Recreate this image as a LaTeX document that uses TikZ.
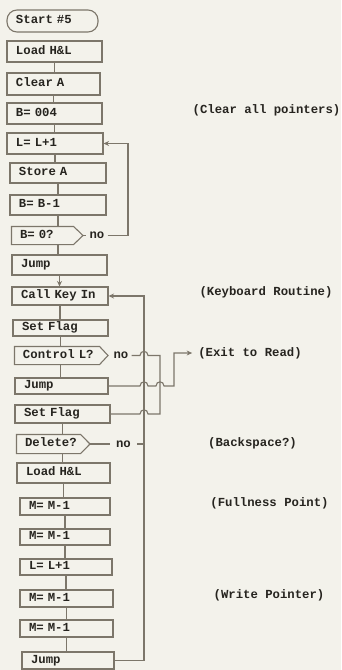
\documentclass[tikz,border=0pt]{standalone}
\usepackage{fontspec}
\setmainfont{Liberation Mono}
\usetikzlibrary{arrows.meta}
\definecolor{bg}{HTML}{F3F2EB}
\definecolor{ln}{HTML}{7C766A}
\definecolor{tx}{HTML}{26241F}
% name, left, top, right, bottom, text
\newcommand\pnode[6]{%
  \pgfmathsetmacro\pw{#4-#2}\pgfmathsetmacro\ph{#5-#3}\pgfmathsetmacro\tw{#4-#2-18}%
  \pgfmathsetmacro\cx{(#2+#4)/2}\pgfmathsetmacro\cy{(#3+#5)/2}%
  \node[pbox, minimum width=\pw pt, minimum height=\ph pt, text width=\tw pt] (#1) at (\cx,\cy) {\mbox{#6}};}
% name, left, top, right(body), bottom, tip x, text
\newcommand\dnode[7]{%
  \pgfmathsetmacro\pw{#4-#2}\pgfmathsetmacro\ph{#5-#3}\pgfmathsetmacro\tw{#4-#2-16}%
  \pgfmathsetmacro\cx{(#2+#4)/2}\pgfmathsetmacro\cy{(#3+#5)/2}%
  \node[pbox, draw=none, minimum width=\pw pt, minimum height=\ph pt, text width=\tw pt] (#1) at (\cx,\cy) {\mbox{#7}};
  \coordinate (#1-tip) at (#6,\cy);
  \draw[conn] (#1.north west) -- (#1.north east) -- (#1-tip) -- (#1.south east) -- (#1.south west) -- cycle;}
\begin{document}
\begin{tikzpicture}[x=1pt,y=-1pt,
  font=\fontsize{12.3}{14}\selectfont\bfseries,
  pbox/.style={draw=ln, line width=1.1pt, inner xsep=0pt, inner ysep=0pt, align=left,
    text=tx, text height=7.5pt, text depth=2pt},
  conn/.style={draw=ln, line width=1.1pt},
  arr/.style={conn, -{Stealth[length=5.5pt,width=5pt]}},
  lab/.style={text=tx, inner xsep=3pt, inner ysep=1pt}]
\fill[bg] (0,0) rectangle (341,670);
\useasboundingbox (0,0) rectangle (341,670);

\node[pbox, rounded corners=10pt, minimum width=91pt, minimum height=22pt, text width=73pt] (start) at (52.5,21) {\mbox{Start \#5}};
\pnode{lhl1}{7}{41}{102}{62}{Load H\&L}
\pnode{clra}{7}{73}{100}{95}{Clear A}
\pnode{b004}{7}{103}{102}{124}{B= 004}
\pnode{ll1}{7}{133}{103}{154}{L= L+1}
\pnode{sta}{10}{163}{106}{183}{Store A}
\pnode{bb1}{10}{195}{106}{215}{B= B-1}
\dnode{b0q}{12}{227}{73}{244}{83}{B= 0?}
\pnode{jmp1}{12}{255}{107}{275}{Jump}
\pnode{ckin}{12}{287}{108}{305}{Call Key In}
\pnode{sf1}{13}{320}{108}{336}{Set Flag}
\dnode{cl}{15}{347}{99}{364}{108}{Control L?}
\pnode{jmp2}{15}{378}{108}{394}{Jump}
\pnode{sf2}{15}{405}{110}{423}{Set Flag}
\dnode{del}{17}{435}{80}{453}{90}{Delete?}
\pnode{lhl2}{17}{463}{110}{483}{Load H\&L}
\pnode{mm1}{20}{498}{110}{515}{M= M-1}
\pnode{mm2}{20}{529}{110}{545}{M= M-1}
\pnode{ll2}{20}{559}{112}{575}{L= L+1}
\pnode{mm3}{20}{590}{113}{607}{M= M-1}
\pnode{mm4}{20}{620}{113}{637}{M= M-1}
\pnode{jmp3}{22}{652}{114}{669}{Jump}

% no labels
\node[lab] (no1) at (97,235.5) {no};
\node[lab] (no2) at (121,355.5) {no};
\node[lab, inner xsep=6pt] (no3) at (123.5,444) {no};

% side notes
\node[lab] (n1) at (266.5,110) {(Clear all pointers)};
\node[lab] (n2) at (266,292) {(Keyboard Routine)};
\node[lab, inner xsep=6pt] (exit) at (250,353) {(Exit to Read)};
\node[lab] (n4) at (252.5,443) {(Backspace?)};
\node[lab] (n5) at (269.5,503) {(Fullness Point)};
\node[lab] (n6) at (269,595) {(Write Pointer)};

% main chain
\draw[conn] (lhl1.south) -- (lhl1.south |- clra.north);
\draw[conn] (clra.south) -- (clra.south |- b004.north);
\draw[conn] (b004.south) -- (b004.south |- ll1.north);
\draw[conn] (ll1.south) -- (ll1.south |- sta.north);
\draw[conn] (sta.south) -- (sta.south |- bb1.north);
\draw[conn] (bb1.south) -- (bb1.south |- b0q.north);
\draw[conn] (b0q.south -| bb1.south) -- (jmp1.north -| bb1.south);
\draw[arr] (jmp1.south) -- (jmp1.south |- ckin.north);
\draw[conn] (ckin.south) -- (ckin.south |- sf1.north);
\draw[conn] (sf1.south) -- (sf1.south |- cl.north);
\draw[conn] (cl.south -| sf1.south) -- (jmp2.north -| sf1.south);
\draw[conn] (sf2.south) -- (sf2.south |- del.north);
\draw[conn] (del.south -| sf2.south) -- (lhl2.north -| sf2.south);
\draw[conn] (lhl2.south) -- (lhl2.south |- mm1.north);
\draw[conn] (mm1.south) -- (mm1.south |- mm2.north);
\draw[conn] (mm2.south) -- (mm2.south |- ll2.north);
\draw[conn] (ll2.south) -- (ll2.south |- mm3.north);
\draw[conn] (mm3.south) -- (mm3.south |- mm4.north);
\draw[conn] (mm4.south) -- (mm4.south |- jmp3.north);

% B=0? loop
\coordinate (k1) at (128,0);
\draw[conn] (b0q-tip) -- (no1.west);
\draw[arr] (no1.east) -| (k1 |- ll1.east) -- (ll1.east);

% main return line
\coordinate (rb) at (144,0);
\draw[arr] (jmp3.east) -| (rb |- ckin.east) -- (ckin.east);

% Delete? no
\draw[conn] (del-tip) -- (no3.west);
\draw[conn] (no3.east) -- (no3.east -| rb);

% Control L? no -> Set Flag
\draw[conn] (no2.east) -- (140,355.5) .. controls (140,350) and (148,350) .. (148,355.5)
  -- (160,355.5) -- (160,414) -- (148,414) .. controls (148,408.5) and (140,408.5) .. (140,414)
  -- (sf2.east);

% Jump -> Exit to Read
\draw[arr] (jmp2.east) -- (140,386) .. controls (140,380.5) and (148,380.5) .. (148,386)
  -- (156,386) .. controls (156,380.5) and (164,380.5) .. (164,386)
  -- (174,386) -- (174,353) -- (exit.west);
\end{tikzpicture}
\end{document}
